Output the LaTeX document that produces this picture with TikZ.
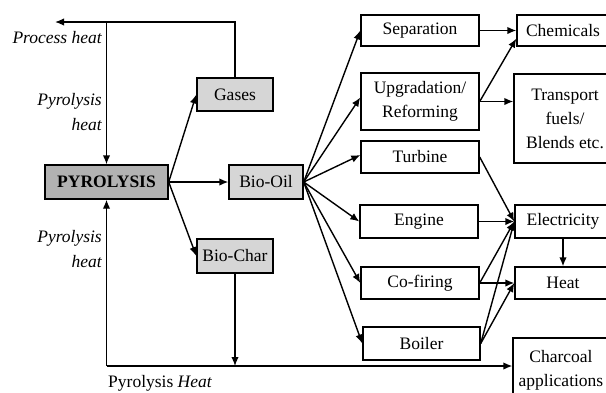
\documentclass[tikz,border=0pt]{standalone}
\usepackage{fontspec}
\setmainfont{Liberation Serif}
\usetikzlibrary{arrows.meta,calc}
\definecolor{pyrofill}{RGB}{178,178,178}
\definecolor{prodfill}{RGB}{214,214,214}
\begin{document}
\begin{tikzpicture}[x=1pt,y=-1pt,
  box/.style={draw,line width=1.4pt,inner sep=0pt,align=center,font=\fontsize{17.5}{24}\selectfont},
  arr/.style={line width=1.4pt,-{Latex[length=9pt,width=7.5pt]}},
  lab/.style={inner sep=0pt,font=\fontsize{17.5}{25}\selectfont\itshape,align=right}]
\clip (0,0) rectangle (606,392);
\fill[white] (0,0) rectangle (606,392);
% left column
\node[box,fill=pyrofill,minimum width=123pt,minimum height=34pt,font=\fontsize{17.5}{24}\selectfont\bfseries] (pyro) at (106.5,182) {PYROLYSIS};
\node[box,fill=prodfill,minimum width=76pt,minimum height=33pt] (gases) at (235,94.5) {Gases};
\node[box,fill=prodfill,minimum width=74pt,minimum height=34pt] (biooil) at (266,182) {Bio-Oil};
\node[box,fill=prodfill,minimum width=76pt,minimum height=34pt] (biochar) at (235,256) {Bio-Char};
% middle column
\node[box,minimum width=118pt,minimum height=31pt] (sep) at (420,30.5) {Separation};
\node[box,minimum width=118pt,minimum height=57pt] (upg) at (420,101.5) {Upgradation/\\Reforming};
\node[box,minimum width=118pt,minimum height=32pt] (turb) at (420,157) {Turbine};
\node[box,minimum width=118pt,minimum height=33pt] (engine) at (419,221.5) {Engine};
\node[box,minimum width=118pt,minimum height=32pt] (cofire) at (420,283) {Co-firing};
\node[box,minimum width=117pt,minimum height=33pt] (boiler) at (421.5,343.5) {Boiler};
% right column
\node[box,minimum width=92pt,minimum height=31pt] (chem) at (563,30.5) {Chemicals};
\node[box,minimum width=102pt,minimum height=89pt] (trans) at (565,118.5) {Transport\\fuels/\\Blends etc.};
\node[box,minimum width=96pt,minimum height=33pt] (elec) at (563,221.5) {Electricity};
\node[box,minimum width=96pt,minimum height=32pt] (heat) at (563,283) {Heat};
\node[box,minimum width=96pt,minimum height=64pt] (char) at (561,370) {Charcoal\\applications};
% labels
\node[lab,anchor=east] (lph) at (102,38) {Process heat};
\node[lab,anchor=east] (lpy1) at (102,112.5) {Pyrolysis\\heat};
\node[lab,anchor=east] (lpy2) at (102,249.5) {Pyrolysis\\heat};
\node[inner sep=0pt,anchor=west,font=\fontsize{17.5}{24}\selectfont] (lbot) at (108,383) {Pyrolysis \textit{Heat}};
% coordinates
\coordinate (phend) at (55,22);
\coordinate (toplft) at (106.5,22);
\coordinate (bl) at (106.5,366);
% heat loop top
\draw[arr] (gases.north) |- (phend);
\draw[arr] (toplft) -- (pyro.north);
% heat loop bottom
\draw[arr] (bl) -- (pyro.south);
\draw[arr] (bl) -- (bl -| char.west);
\draw[arr] (biochar.south) -- (biochar.south |- bl);
% pyrolysis products
\draw[arr] (pyro.east) -- (gases.west);
\draw[arr] (pyro.east) -- (biooil.west);
\draw[arr] (pyro.east) -- (biochar.west);
% bio-oil fan
\draw[arr] (biooil.east) -- (sep.west);
\draw[arr] (biooil.east) -- ([yshift=4pt]upg.west);
\draw[arr] (biooil.east) -- ([yshift=2pt]turb.west);
\draw[arr] (biooil.east) -- (engine.west);
\draw[arr] (biooil.east) -- (cofire.west);
\draw[arr] (biooil.east) -- (boiler.west);
% to end uses
\draw[arr] (sep.east) -- (chem.west);
\draw[arr] (upg.east) -- ($(chem.west)!0.5!(chem.south west)$);
\draw[arr] (upg.east) -- (upg.east -| trans.west);
\draw[arr] (turb.east) -- (elec.west);
\draw[arr] (engine.east) -- (elec.west);
\draw[arr] (cofire.east) -- (elec.west);
\draw[arr] (cofire.east) -- (heat.west);
\draw[arr] (boiler.east) -- (elec.west);
\draw[arr] (boiler.east) -- (heat.west);
\draw[arr] (elec.south) -- (heat.north);
\end{tikzpicture}
\end{document}
